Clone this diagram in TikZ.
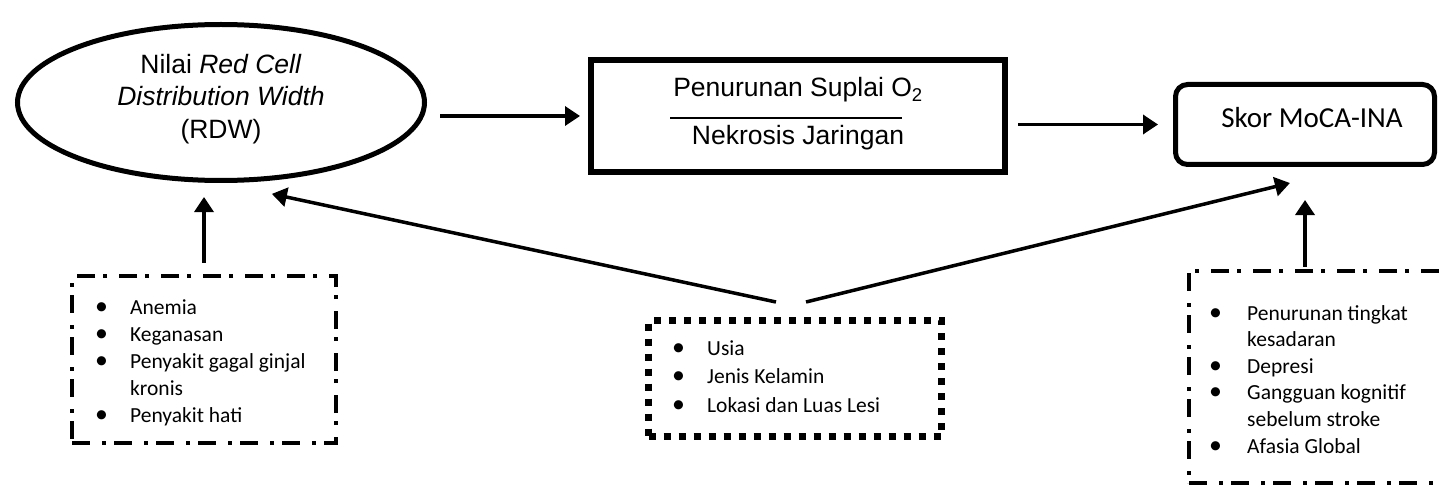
\documentclass[tikz,border=0pt]{standalone}
\usepackage{fontspec}
\setmainfont{Liberation Sans}
\newfontfamily\calibri{Carlito}
\usetikzlibrary{arrows.meta,shapes.geometric}
\tikzset{
	arr/.style={line width=3.5pt, -{Triangle[length=15pt,width=19pt]}},
	dashdot/.style={draw, line width=4.5pt, dash pattern=on 18pt off 12pt on 4pt off 8pt},
	squaredots/.style={draw, line width=7pt, dash pattern=on 7pt off 8pt},
	listtxt/.style={anchor=base west, inner sep=0pt, font=\calibri\fontsize{21.5}{27}\selectfont},
	maintxt/.style={inner sep=0pt, font=\fontsize{26.5}{32.5}\selectfont},
}
\newcommand{\bul}{\scalebox{1.2}{\textbullet}}
\begin{document}
\begin{tikzpicture}[x=1pt,y=-1pt]
	\useasboundingbox (0,0) rectangle (1439,489);
	\clip (0,0) rectangle (1439,489);
	% top row
	\node (rdw) [draw, ellipse, line width=5pt, minimum width=407pt, minimum height=156pt, inner sep=0pt] at (221,102.5) {};
	\node (rdwtxt) [maintxt, align=center] at (221,99) {Nilai \textit{Red Cell}\\\textit{Distribution Width}\\(RDW)};
	\node (supply) [draw, line width=6pt, minimum width=414pt, minimum height=112pt] at (798,116) {};
	\node (supplytop) [maintxt, anchor=base] at (798,97) {Penurunan Suplai O\textsubscript{2}};
	\node (supplybot) [maintxt, anchor=base] at (798,145) {Nekrosis Jaringan};
	\draw[line width=2pt] (670,118) -- (902,118);
	\node (moca) [draw, line width=5pt, rounded corners=12pt, minimum width=259pt, minimum height=80pt] at (1305,124.5) {};
	\node (mocatxt) [inner sep=0pt, anchor=base, font=\calibri\fontsize{29}{34}\selectfont] at (1312,128) {Skor MoCA-INA};
	% bottom row
	\node (risk1) [dashdot, minimum width=264pt, minimum height=167pt] at (204,359.5) {};
	\node (risk1txt) [listtxt] at (95,314) {\begin{tabular}[t]{@{}p{35pt}@{}l@{}}
		\bul & Anemia\\
		\bul & Keganasan\\
		\bul & Penyakit gagal ginjal\\
		& kronis\\
		\bul & Penyakit hati
	\end{tabular}};
	\node (risk2) [squaredots, minimum width=293pt, minimum height=116pt] at (795,378.5) {};
	\node (risk2txt) [listtxt, font=\calibri\fontsize{21.5}{28.5}\selectfont] at (672,355) {\begin{tabular}[t]{@{}p{35pt}@{}l@{}}
		\bul & Usia\\
		\bul & Jenis Kelamin\\
		\bul & Lokasi dan Luas Lesi
	\end{tabular}};
	\node (risk3) [dashdot, minimum width=271pt, minimum height=212pt] at (1324.5,377) {};
	\node (risk3txt) [listtxt, font=\calibri\fontsize{21.5}{26.6}\selectfont] at (1209,320) {\begin{tabular}[t]{@{}p{38pt}@{}l@{}}
		\bul & Penurunan tingkat\\
		& kesadaran\\
		\bul & Depresi\\
		\bul & Gangguan kognitif\\
		& sebelum stroke\\
		\bul & Afasia Global
	\end{tabular}};
	% arrows
	\draw[arr, shorten <=13pt, shorten >=8pt] (rdw.east |- supply.west) -- (supply.west);
	\draw[arr, shorten <=10pt, shorten >=15pt] (supply.east |- moca.west) -- (moca.west);
	\draw[arr, shorten <=11pt, shorten >=14pt] (risk1.north) -- (risk1.north |- rdw.south);
	\draw[arr, shorten <=2pt, shorten >=33pt] (moca.south |- risk3.north) -- (moca.south);
	\draw[arr, shorten >=52pt] ([shift={(-19,-15)}]risk2.north) -- (rdw.south);
	\draw[arr, shorten >=67pt] ([shift={(11,-15)}]risk2.north) -- ([xshift=50pt]moca.south);
\end{tikzpicture}
\end{document}
